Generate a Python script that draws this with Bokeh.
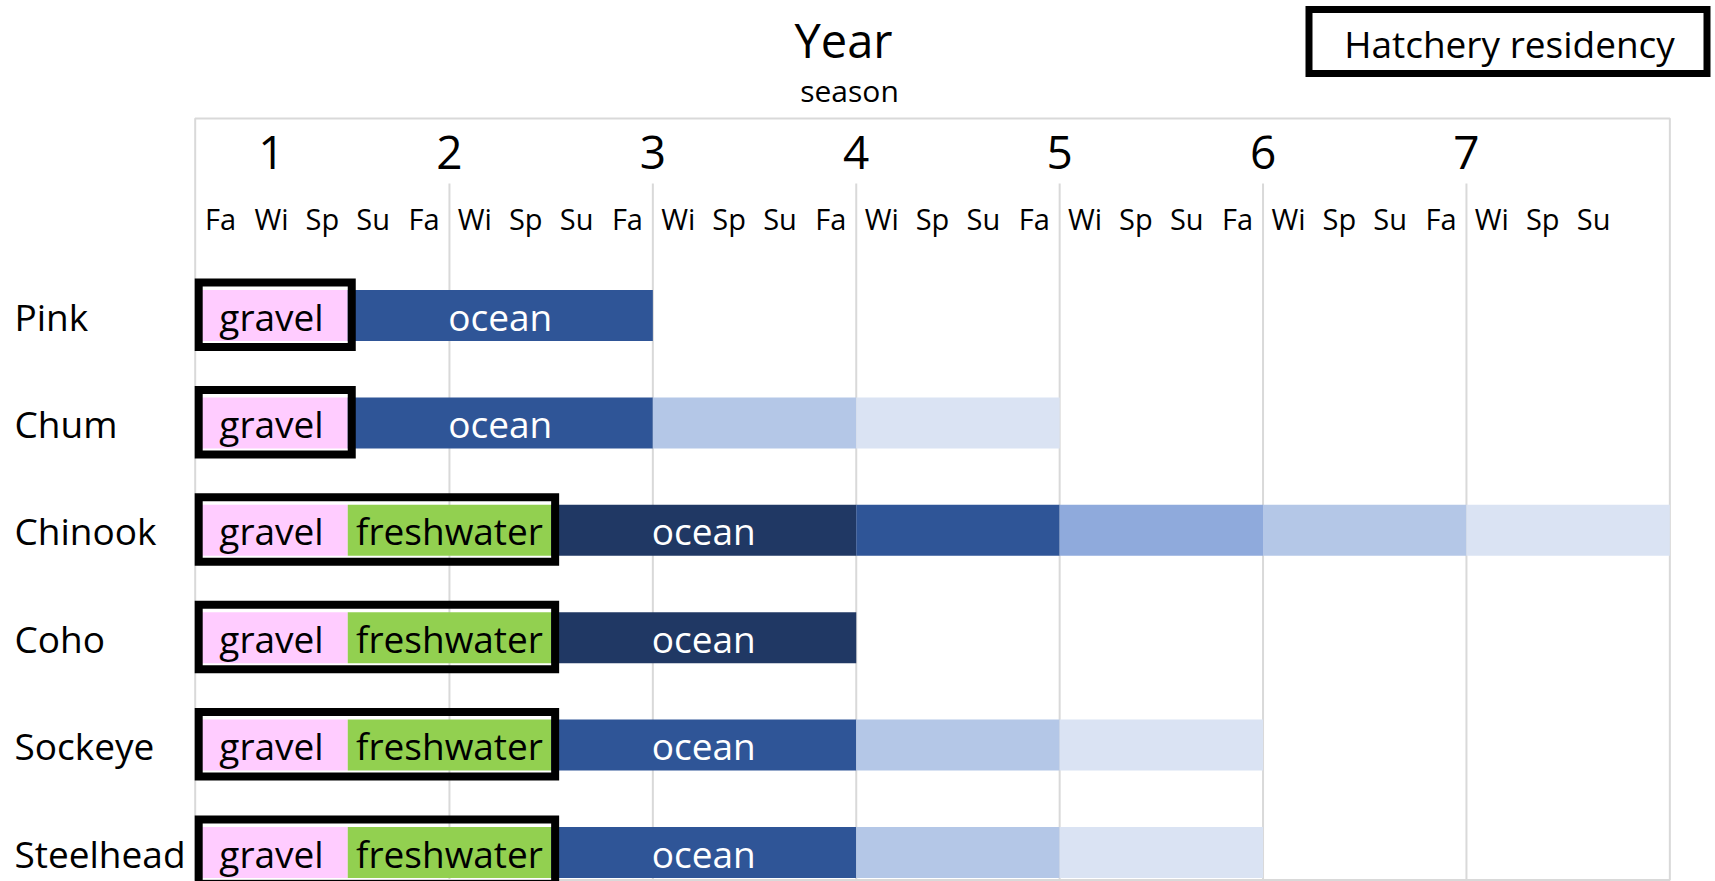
from bokeh.plotting import figure
from bokeh.models import Range1d, ColumnDataSource
from bokeh.core.properties import value
from bokeh.embed import file_html
from bokeh.resources import INLINE

# ---------------- data ----------------
species = ["Pink", "Chum", "Chinook", "Coho", "Sockeye", "Steelhead"]
gravel_end = [3, 3, 3, 3, 3, 3]          # seasons counted from first fall
freshwater_end = [3, 3, 7, 7, 7, 7]      # freshwater from gravel_end to here
ocean_bounds = [
    [3, 9],
    [3, 9, 13, 17],
    [7, 13, 17, 21, 25, 29],
    [7, 13],
    [7, 13, 17, 21],
    [7, 13, 17, 21],
]
ocean_shades = [
    ["#2F5597"],
    ["#2F5597", "#B4C7E7", "#DAE3F3"],
    ["#203864", "#2F5597", "#8FAADC", "#B4C7E7", "#DAE3F3"],
    ["#203864"],
    ["#2F5597", "#B4C7E7", "#DAE3F3"],
    ["#2F5597", "#B4C7E7", "#DAE3F3"],
]
season_labels = ["Fa",
                 "Wi", "Sp", "Su", "Fa",
                 "Wi", "Sp", "Su", "Fa",
                 "Wi", "Sp", "Su", "Fa",
                 "Wi", "Sp", "Su", "Fa",
                 "Wi", "Sp", "Su", "Fa",
                 "Wi", "Sp", "Su", "Fa",
                 "Wi", "Sp", "Su"]
n_seasons = 29
year_labels = ["1", "2", "3", "4", "5", "6", "7"]
year_label_pos = [1.5, 5, 9, 13, 17, 21, 25]
year_bounds = [5, 9, 13, 17, 21, 25]

GRAVEL = "#FFCCFF"
FRESH = "#92D050"
FONT = "Open Sans"

# ---------------- layout (pixel geometry) ----------------
W, H = 1715, 881
X0 = 194.7          # px of season 0
SX = 50.85          # px per season
Y0 = 315.0          # px of first row centre
SY = 107.4          # px per row
px = 1.0 / SX
py = 1.0 / SY
SHIFT = 0.38        # baseline correction (fraction of font size)


def ypx(v):
    return (v - Y0) * py


def ybase(v, fs):
    return (v - SHIFT * fs - Y0) * py


def xpx(v):
    return (v - X0) * px


p = figure(width=W, height=H, output_backend="svg", toolbar_location=None,
           x_range=Range1d(xpx(0), xpx(W)),
           y_range=Range1d(ypx(H), ypx(0)),
           min_border=0, outline_line_color=None)
p.axis.visible = False
p.grid.visible = False
p.background_fill_color = "white"
p.border_fill_color = "white"

frame_top = ypx(118)
frame_bot = ypx(879.5)
grid_top = ypx(183)

# frame
p.quad(left=[0], right=[n_seasons], top=[frame_top], bottom=[frame_bot],
       fill_color=None, line_color="#D9D9D9", line_width=2)
# year gridlines
p.segment(x0=year_bounds, x1=year_bounds,
          y0=[grid_top] * len(year_bounds), y1=[frame_bot] * len(year_bounds),
          line_color="#D9D9D9", line_width=2)

# bars
half = 25.5 * py
L, R, T, B, C = [], [], [], [], []
for i, sp in enumerate(species):
    L.append(0); R.append(gravel_end[i]); T.append(i - half); B.append(i + half); C.append(GRAVEL)
    if freshwater_end[i] > gravel_end[i]:
        L.append(gravel_end[i]); R.append(freshwater_end[i]); T.append(i - half); B.append(i + half); C.append(FRESH)
    bnd = ocean_bounds[i]
    for k, col in enumerate(ocean_shades[i]):
        L.append(bnd[k]); R.append(bnd[k + 1]); T.append(i - half); B.append(i + half); C.append(col)
p.quad(source=ColumnDataSource(dict(left=L, right=R, top=T, bottom=B, color=C)),
       left="left", right="right", top="top", bottom="bottom",
       fill_color="color", line_color=None)

# hatchery residency boxes
bl = [3.5 * px] * len(species)
br = [freshwater_end[i] + 4 * px for i in range(len(species))]
bt = [i - half - 7.5 * py for i in range(len(species))]
bb = [i + half + 6 * py for i in range(len(species))]
p.quad(left=bl, right=br, top=bt, bottom=bb, fill_color=None,
       line_color="black", line_width=8, line_join="miter")

# stage labels
FS = 37
base = (14.6 - SHIFT * FS) * py
tx, ty, tt, tc = [], [], [], []
for i, sp in enumerate(species):
    tx.append(gravel_end[i] / 2); ty.append(i + base); tt.append("gravel"); tc.append("black")
    if freshwater_end[i] > gravel_end[i]:
        tx.append((gravel_end[i] + freshwater_end[i]) / 2); ty.append(i + base); tt.append("freshwater"); tc.append("black")
    bnd = ocean_bounds[i]
    tx.append((bnd[0] + bnd[1]) / 2); ty.append(i + base); tt.append("ocean"); tc.append("white")
p.text(source=ColumnDataSource(dict(x=tx, y=ty, t=tt, c=tc)), x="x", y="y", text="t",
       text_color="c", text_font=value(FONT), text_font_size=f"{FS}px",
       text_align="center", text_baseline="alphabetic")

# species names
p.text(x=[xpx(14)] * len(species), y=[i + base for i in range(len(species))],
       text=species, text_font=value(FONT), text_font_size=f"{FS}px", text_color="black",
       text_align="left", text_baseline="alphabetic")

# year labels
p.text(x=year_label_pos, y=[ybase(169.5, 46)] * len(year_labels), text=year_labels,
       text_font=value(FONT), text_font_size="46px", text_color="black",
       text_align="center", text_baseline="alphabetic")

# season labels
p.text(x=[k + 0.5 for k in range(len(season_labels))],
       y=[ybase(229, 29)] * len(season_labels), text=season_labels,
       text_font=value(FONT), text_font_size="29px", text_color="black",
       text_align="center", text_baseline="alphabetic")

# title texts
p.text(x=[xpx(843)], y=[ybase(57, 47)], text=["Year"],
       text_font=value(FONT), text_font_size="47px", text_color="black",
       text_align="center", text_baseline="alphabetic")
p.text(x=[xpx(849)], y=[ybase(101.5, 30)], text=["season"],
       text_font=value(FONT), text_font_size="30px", text_color="black",
       text_align="center", text_baseline="alphabetic")

# legend box "Hatchery residency"
p.quad(left=[xpx(1308.5)], right=[xpx(1706.5)],
       top=[ypx(9)], bottom=[ypx(73)],
       fill_color=None, line_color="black", line_width=7, line_join="miter")
p.text(x=[xpx(1509)], y=[ybase(57, 37)], text=["Hatchery residency"],
       text_font=value(FONT), text_font_size="37px", text_color="black",
       text_align="center", text_baseline="alphabetic")

open("out.html", "w").write(file_html(p, INLINE))
